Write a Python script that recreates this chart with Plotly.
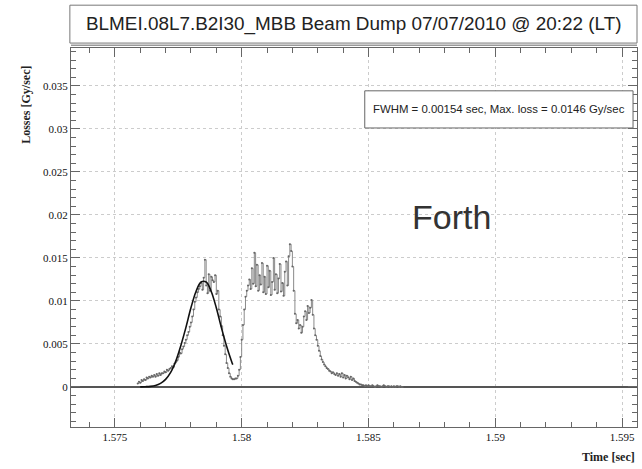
import numpy as np
import plotly.graph_objects as go

# ---- data ----
t_start = 1.5759          # first time bin [sec]
bin_width = 0.00005       # bin width [sec]
losses = [
    # 1.5759 - 1.5769
    0.0004, 0.0006, 0.0005, 0.0008, 0.0007, 0.0009, 0.0008, 0.0011, 0.0010, 0.0012,
    0.0011, 0.0013, 0.0012, 0.0014, 0.0012, 0.0015, 0.0013, 0.0016, 0.0014, 0.0016,
    # 1.5769 - 1.5779
    0.0016, 0.0018, 0.0017, 0.0020, 0.0019, 0.0021, 0.0022, 0.0024, 0.0023, 0.0027,
    0.0029, 0.0031, 0.0035, 0.0040, 0.0039, 0.0044, 0.0047, 0.0051, 0.0055, 0.0060,
    # 1.5779 - 1.5789
    0.0064, 0.0070, 0.0075, 0.0082, 0.0090, 0.0099, 0.0104, 0.0110, 0.0114, 0.0117,
    0.0121, 0.0113, 0.0127, 0.0148, 0.0118, 0.0109, 0.0131, 0.0112, 0.0128, 0.0124,
    # 1.5789 - 1.5799
    0.0122, 0.0130, 0.0108, 0.0112, 0.0090, 0.0082, 0.0071, 0.0060, 0.0048, 0.0038,
    0.0028, 0.0022, 0.0016, 0.0012, 0.0010, 0.0009, 0.0009, 0.0010, 0.0010, 0.0013,
    # 1.5799 - 1.5809
    0.0020, 0.0035, 0.0055, 0.0072, 0.0090, 0.0105, 0.0112, 0.0118, 0.0125, 0.0114,
    0.0138, 0.0120, 0.0156, 0.0117, 0.0142, 0.0112, 0.0130, 0.0119, 0.0144, 0.0110,
    # 1.5809 - 1.5819
    0.0128, 0.0108, 0.0141, 0.0116, 0.0135, 0.0107, 0.0122, 0.0150, 0.0113, 0.0131,
    0.0109, 0.0126, 0.0143, 0.0111, 0.0121, 0.0106, 0.0134, 0.0146, 0.0118, 0.0152,
    # 1.5819 - 1.5829
    0.0166, 0.0158, 0.0140, 0.0112, 0.0085, 0.0074, 0.0078, 0.0068, 0.0072, 0.0063,
    0.0070, 0.0082, 0.0088, 0.0078, 0.0094, 0.0086, 0.0092, 0.0101, 0.0084, 0.0068,
    # 1.5829 - 1.5839
    0.0060, 0.0055, 0.0048, 0.0042, 0.0036, 0.0032, 0.0029, 0.0026, 0.0024, 0.0022,
    0.0021, 0.0019, 0.0018, 0.0016, 0.0017, 0.0015, 0.0014, 0.0016, 0.0013, 0.0015,
    # 1.5839 - 1.5849
    0.0012, 0.0016, 0.0011, 0.0014, 0.0010, 0.0013, 0.0011, 0.0009, 0.0012, 0.0008,
    0.0010, 0.0007, 0.0006, 0.0005, 0.0004, 0.0003, 0.0003, 0.0002, 0.0002, 0.0001,
    # 1.5849 - 1.5859
    0.0002, 0.0001, 0.0002, 0.0001, 0.0001, 0.0002, 0.0001, 0.0000, 0.0001, 0.0002,
    0.0001, 0.0001, 0.0000, 0.0001, 0.0002, 0.0001, 0.0000, 0.0001, 0.0001, 0.0000,
    # 1.5859 - 1.5869
    0.0001, 0.0000, 0.0001, 0.0000, 0.0001, 0.0001, 0.0000, 0.0001, 0.0000, 0.0000,
]

fit_time = [1.5760, 1.5762, 1.5764, 1.5766, 1.5768, 1.5770, 1.5772, 1.5774, 1.5776,
            1.5778, 1.5780, 1.5782, 1.5784, 1.5786, 1.5788, 1.5790, 1.5792, 1.5794,
            1.5796, 1.57965]
fit_loss = [0.00001, 0.00003, 0.00007, 0.00018, 0.00042, 0.00089, 0.0017, 0.0030, 0.0048,
            0.0069, 0.0092, 0.0111, 0.0122, 0.0122, 0.0111, 0.0092, 0.0069, 0.0048,
            0.0030, 0.0026]

x_range = [1.57327, 1.59559]
y_range = [-0.00465, 0.0394]
x_tickvals = [1.575, 1.58, 1.585, 1.59, 1.595]
x_ticktext = ["1.575", "1.58", "1.585", "1.59", "1.595"]
y_tickvals = [0, 0.005, 0.01, 0.015, 0.02, 0.025, 0.03, 0.035]
y_ticktext = ["0", "0.005", "0.01", "0.015", "0.02", "0.025", "0.03", "0.035"]

title_text = "BLMEI.08L7.B2I30_MBB Beam Dump 07/07/2010 @ 20:22 (LT)"
stats_text = "FWHM = 0.00154 sec, Max. loss = 0.0146 Gy/sec"

time = t_start + bin_width * np.arange(len(losses))

fig = go.Figure()
fig.add_trace(go.Scatter(
    x=time, y=losses, mode="lines+markers", line=dict(color="#8a8a8a", width=1, shape="hv"),
    marker=dict(color="#666666", size=2), showlegend=False))
fig.add_trace(go.Scatter(
    x=fit_time, y=fit_loss, mode="lines", line=dict(color="#111111", width=1.6, shape="spline"),
    showlegend=False))

tickfont = dict(family="Liberation Serif", size=11, color="#111111")
fig.update_xaxes(
    range=x_range, tickvals=x_tickvals, ticktext=x_ticktext, tickfont=tickfont,
    ticks="inside", ticklen=9, tickcolor="#666666", showline=True, linecolor="#666666",
    linewidth=1, mirror="ticks", showgrid=True, gridcolor="#cccccc", griddash="dot",
    gridwidth=1, zeroline=False,
    minor=dict(dtick=0.001, tick0=1.575, ticks="inside", ticklen=5, tickcolor="#666666",
               showgrid=False))
fig.update_yaxes(
    range=y_range, tickvals=y_tickvals, ticktext=y_ticktext, tickfont=tickfont,
    ticks="inside", ticklen=9, tickcolor="#666666", showline=True, linecolor="#666666",
    linewidth=1, mirror="ticks", showgrid=True, gridcolor="#cccccc", griddash="dot",
    gridwidth=1, zeroline=True, zerolinecolor="#555555", zerolinewidth=2,
    minor=dict(dtick=0.001, tick0=0, ticks="inside", ticklen=5, tickcolor="#666666",
               showgrid=False))

shapes = [
    dict(type="rect", xref="paper", yref="paper", x0=-0.002, x1=1.0, y0=1.013, y1=1.113,
         line=dict(color="#777777", width=1), fillcolor="white"),
    dict(type="line", xref="paper", yref="paper", x0=0.0, x1=1.0, y0=1.007, y1=1.007,
         line=dict(color="#999999", width=1.5)),
    dict(type="rect", xref="paper", yref="paper", x0=0.519, x1=0.993, y0=0.789, y1=0.887,
         line=dict(color="#666666", width=1), fillcolor="white"),
]
annotations = [
    dict(text=title_text, xref="paper", yref="paper", x=0.499, y=1.063, showarrow=False,
         xanchor="center", yanchor="middle",
         font=dict(family="Liberation Sans", size=18.9, color="#222222")),
    dict(text=stats_text, xref="paper", yref="paper", x=0.756, y=0.838, showarrow=False,
         xanchor="center", yanchor="middle",
         font=dict(family="Liberation Sans", size=11.4, color="#222222")),
    dict(text="Forth", xref="paper", yref="paper", x=0.672, y=0.555, showarrow=False,
         xanchor="center", yanchor="middle",
         font=dict(family="Liberation Sans", size=34, color="#333333")),
    dict(text="<b>Losses [Gy/sec]</b>", xref="paper", yref="paper", x=-0.0795, y=0.85,
         showarrow=False, textangle=-90, xanchor="center", yanchor="middle",
         font=dict(family="Liberation Serif", size=12, color="#222222")),
    dict(text="<b>Time [sec]</b>", xref="paper", yref="paper", x=1.0, y=-0.079,
         showarrow=False, xanchor="right", yanchor="middle",
         font=dict(family="Liberation Serif", size=12, color="#222222")),
]

fig.update_layout(
    width=642, height=469, paper_bgcolor="white", plot_bgcolor="white",
    margin=dict(l=71, r=5, t=48, b=42), shapes=shapes, annotations=annotations,
    showlegend=False)

fig.write_html("out.html", config={"displayModeBar": False},
               post_script="document.body.style.margin='0';")
